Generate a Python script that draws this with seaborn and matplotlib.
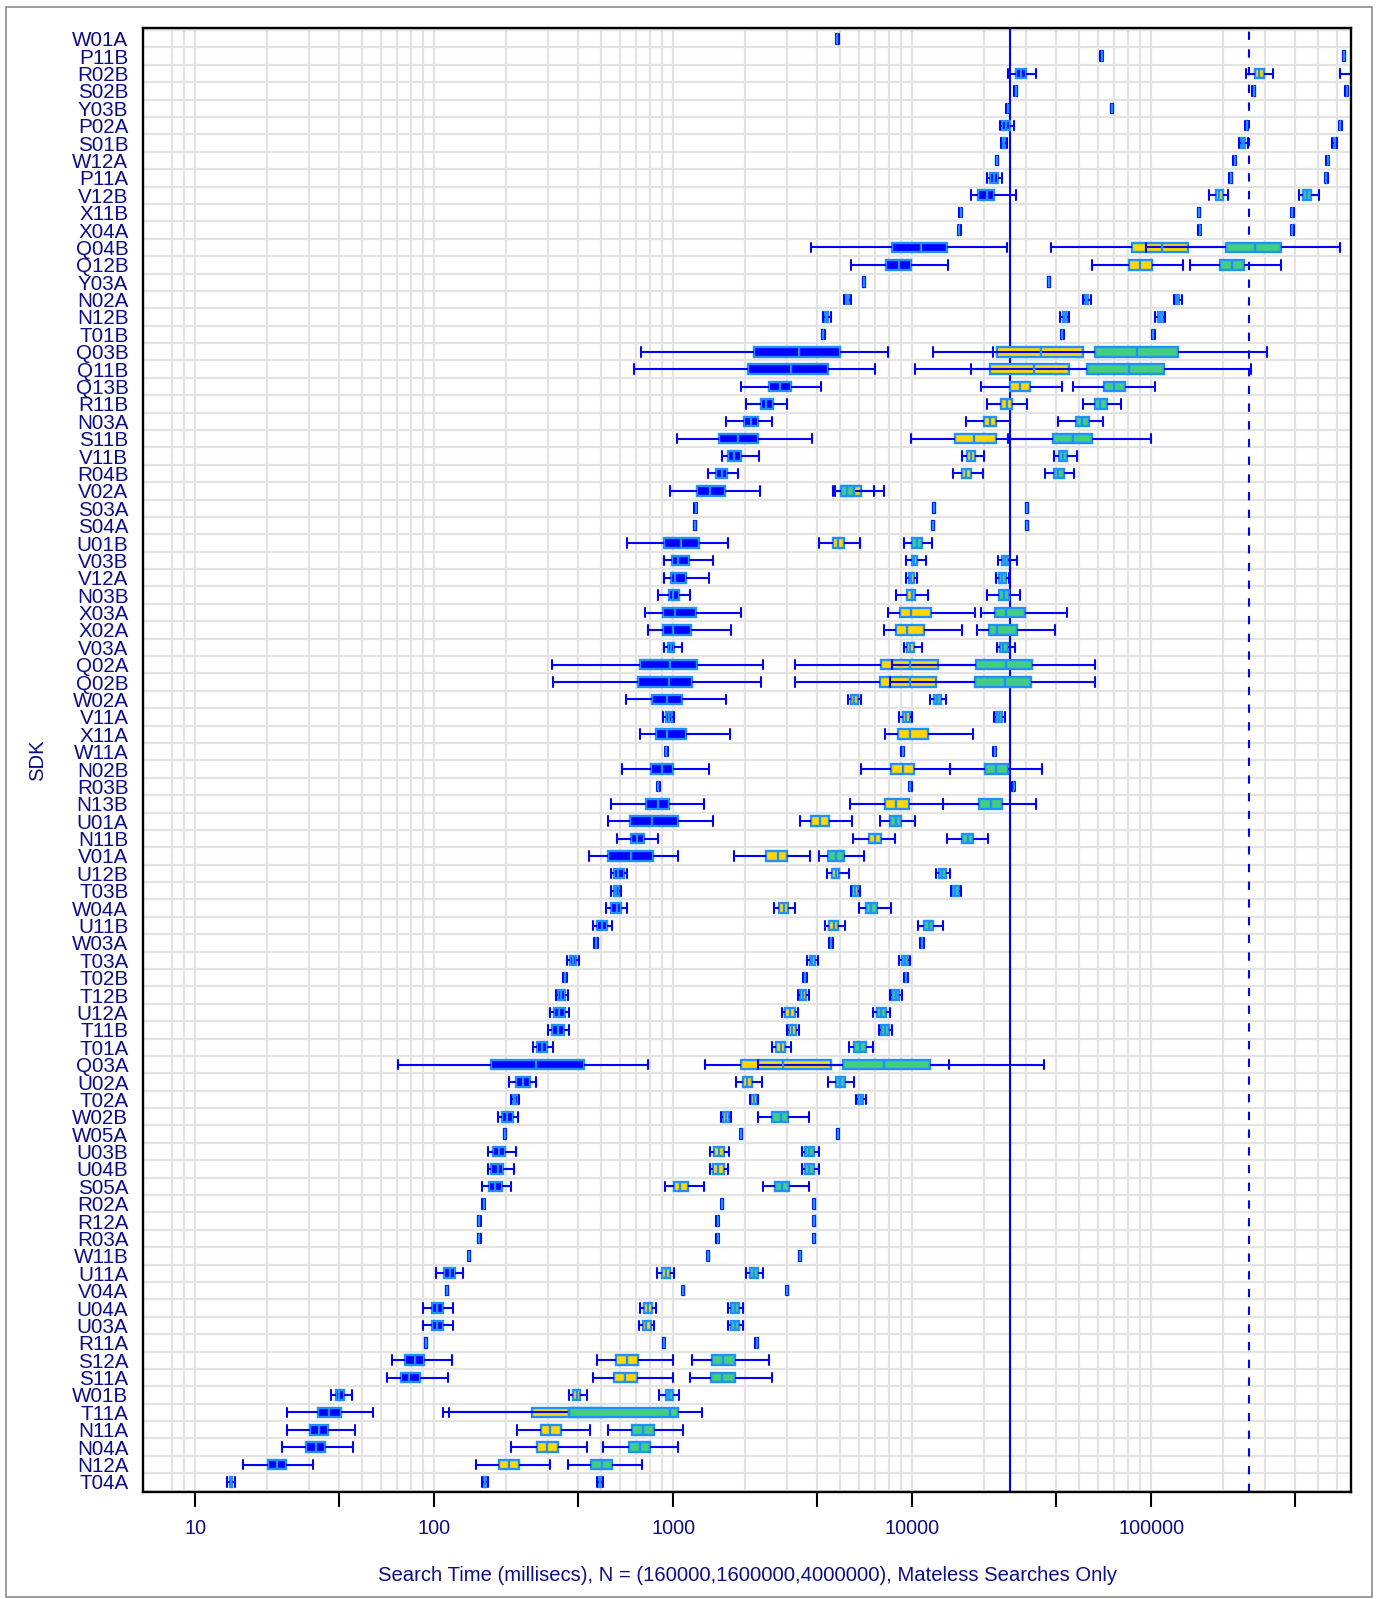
import numpy as np
import pandas as pd
import matplotlib
matplotlib.use("Agg")
import matplotlib.pyplot as plt
from matplotlib.patches import Rectangle
from matplotlib.ticker import FixedLocator, FixedFormatter, NullLocator
import seaborn as sns

# Five-number summaries (min, q1, median, q3, max) of search time in ms
sdk_labels = [
    "W01A", "P11B", "R02B", "S02B", "Y03B", "P02A", "S01B", "W12A", "P11A", "V12B",
    "X11B", "X04A", "Q04B", "Q12B", "Y03A", "N02A", "N12B", "T01B", "Q03B", "Q11B",
    "Q13B", "R11B", "N03A", "S11B", "V11B", "R04B", "V02A", "S03A", "S04A", "U01B",
    "V03B", "V12A", "N03B", "X03A", "X02A", "V03A", "Q02A", "Q02B", "W02A", "V11A",
    "X11A", "W11A", "N02B", "R03B", "N13B", "U01A", "N11B", "V01A", "U12B", "T03B",
    "W04A", "U11B", "W03A", "T03A", "T02B", "T12B", "U12A", "T11B", "T01A", "Q03A",
    "U02A", "T02A", "W02B", "W05A", "U03B", "U04B", "S05A", "R02A", "R12A", "R03A",
    "W11B", "U11A", "V04A", "U04A", "U03A", "R11A", "S12A", "S11A", "W01B", "T11A",
    "N11A", "N04A", "N12A", "T04A",
]

n_labels = ["160000", "1600000", "4000000"]

t_160k = [
    (4790, 4820, 4850, 4880, 4910), (61200, 61600, 62000, 62400, 62800),
    (25000, 27100, 28400, 29900, 32800), (26700, 26900, 27100, 27300, 27500),
    None, (23300, 23700, 24600, 25500, 26500),
    (23500, 23800, 24000, 24300, 24800), (22300, 22450, 22600, 22750, 22900),
    (20500, 21100, 21900, 22800, 23800), (17600, 18800, 20500, 21900, 27100),
    (15700, 15800, 15900, 16000, 16100), (15500, 15600, 15700, 15800, 15900),
    (3770, 8250, 10900, 13900, 24800), (5510, 7770, 8770, 9890, 14100),
    (6190, 6230, 6270, 6310, 6350), (5150, 5230, 5310, 5420, 5560),
    (4230, 4300, 4360, 4450, 4560), (4170, 4200, 4230, 4260, 4290),
    (734, 2180, 3370, 5000, 7870), (684, 2060, 3120, 4420, 6970),
    (1910, 2520, 2780, 3100, 4160), (2020, 2320, 2450, 2600, 2980),
    (1660, 1980, 2120, 2250, 2580), (1040, 1550, 1860, 2250, 3800),
    (1590, 1700, 1790, 1910, 2290), (1390, 1510, 1590, 1680, 1860),
    (970, 1260, 1430, 1640, 2300), (1225, 1232, 1240, 1248, 1255),
    (1215, 1222, 1230, 1238, 1245), (640, 913, 1080, 1280, 1700),
    (913, 985, 1050, 1160, 1460), (913, 978, 1020, 1130, 1410),
    (866, 963, 1000, 1060, 1170), (762, 906, 1020, 1240, 1920),
    (780, 906, 992, 1180, 1740), (913, 950, 978, 1010, 1090),
    (311, 722, 970, 1260, 2360), (313, 710, 963, 1200, 2320),
    (634, 816, 941, 1090, 1660), (906, 927, 955, 985, 1010),
    (728, 848, 941, 1130, 1730), (920, 927, 934, 941, 948),
    (609, 809, 900, 1000, 1410), (853, 860, 866, 872, 879),
    (549, 767, 860, 963, 1340), (533, 658, 816, 1050, 1470),
    (579, 668, 705, 750, 860), (444, 533, 664, 821, 1050),
    (549, 562, 589, 621, 640), (549, 562, 575, 592, 606),
    (525, 549, 579, 606, 640), (462, 479, 501, 529, 553),
    (466, 471, 476, 481, 486), (359, 368, 379, 393, 402),
    (346, 349, 353, 357, 360), (323, 330, 340, 353, 362),
    (306, 318, 333, 351, 367), (299, 311, 328, 348, 367),
    (259, 269, 282, 297, 315), (70.3, 172, 265, 424, 780),
    (206, 219, 235, 252, 267), (210, 213, 218, 223, 226),
    (184, 191, 202, 213, 223), (195, 196, 197, 198, 199),
    (168, 176, 186, 197, 219), (167, 173, 185, 194, 216),
    (159, 169, 180, 191, 210), (159, 160, 161, 162, 163),
    (152, 153, 154, 155, 156), (152, 153, 154, 155, 156),
    (138.5, 139.2, 140, 140.8, 141.5), (102, 110, 116, 122, 132),
    (111.8, 112.4, 113, 113.6, 114.2), (89.5, 97.5, 103, 109, 120),
    (89.5, 97.5, 103, 109, 120), (91.2, 91.8, 92.3, 92.8, 93.4),
    (66.6, 75.2, 83.2, 90.2, 119), (63.6, 72.5, 78.7, 87.0, 114),
    (37.1, 38.6, 40.1, 42.0, 45.3), (24.1, 32.6, 36.3, 40.7, 55.6),
    (24.1, 30.3, 32.9, 35.8, 46.7), (23.0, 29.1, 31.9, 35.0, 45.6),
    (15.9, 20.1, 22.0, 23.9, 31.2), (13.6, 13.9, 14.1, 14.3, 14.6),
]

t_1600k = [
    None, (632000, 636000, 640000, 644000, 648000),
    (249000, 270000, 283000, 296000, 322000), (264000, 266000, 268000, 270000, 272000),
    (24700, 24850, 25000, 25150, 25300), (247000, 248500, 250000, 251500, 253000),
    (232000, 237000, 241000, 246000, 254000), (220000, 221500, 223000, 224500, 226000),
    (212000, 213500, 215000, 216500, 218000), (174000, 186000, 192000, 199000, 210000),
    (156000, 157000, 158000, 159000, 160000), (157000, 158000, 159000, 160000, 161000),
    (38100, 83300, 111000, 142000, 254000), (56600, 80300, 90000, 101000, 136000),
    (36800, 37050, 37300, 37550, 37800), (51700, 52500, 53300, 54300, 55800),
    (41500, 42500, 43400, 44400, 45400), (41800, 42100, 42400, 42700, 43000),
    (12200, 22600, 34600, 51700, 95000), (10300, 21100, 32300, 45400, 79700),
    (19300, 25500, 28200, 31100, 42100), (20600, 23500, 24800, 26100, 30200),
    (16700, 20000, 21100, 22400, 25700), (9890, 15100, 18100, 22300, 44400),
    (16100, 16900, 17600, 18300, 20000), (14800, 16200, 16800, 17600, 19700),
    (4740, 5110, 5720, 6080, 7630), (12150, 12220, 12300, 12380, 12450),
    (12050, 12120, 12200, 12280, 12350), (4070, 4670, 4880, 5150, 6040),
    (9370, 9960, 10200, 10500, 11400), (9370, 9700, 9900, 10200, 10500),
    (8560, 9530, 9960, 10300, 11600), (7870, 8880, 9890, 12000, 18300),
    (7630, 8560, 9450, 11200, 16200), (9230, 9530, 9810, 10200, 11000),
    (3240, 7370, 9750, 12800, 22400), (3240, 7290, 9750, 12600, 22400),
    (5390, 5560, 5720, 5900, 6080), (8810, 9100, 9370, 9750, 10000),
    (7690, 8700, 9750, 11600, 17900), (8960, 9030, 9100, 9170, 9240),
    (6080, 8130, 9100, 10200, 14300), (9670, 9740, 9810, 9880, 9950),
    (5470, 7690, 8560, 9660, 13400), (3390, 3770, 4100, 4460, 5600),
    (5640, 6610, 6970, 7370, 8420), (1790, 2430, 2740, 3000, 3740),
    (4390, 4600, 4770, 4920, 5430), (5510, 5590, 5770, 5950, 6040),
    (2640, 2760, 2890, 3030, 3220), (4290, 4490, 4700, 4880, 5230),
    (4470, 4510, 4560, 4600, 4650), (3630, 3720, 3800, 3920, 4010),
    (3480, 3510, 3550, 3590, 3620), (3320, 3400, 3490, 3600, 3680),
    (2850, 2940, 3070, 3220, 3320), (2980, 3050, 3140, 3260, 3340),
    (2580, 2680, 2810, 2940, 3120), (1360, 1910, 2870, 4560, 14200),
    (1820, 1960, 2040, 2140, 2340), (2090, 2120, 2170, 2230, 2270),
    (1580, 1620, 1660, 1710, 1750), (1900, 1910, 1920, 1930, 1940),
    (1430, 1480, 1550, 1630, 1710), (1430, 1470, 1540, 1630, 1700),
    (920, 1010, 1070, 1150, 1340), (1580, 1590, 1600, 1610, 1620),
    (1510, 1520, 1530, 1540, 1550), (1510, 1520, 1530, 1540, 1550),
    (1385, 1392, 1400, 1408, 1415), (854, 894, 927, 970, 1010),
    (1088, 1094, 1100, 1106, 1112), (728, 750, 780, 816, 848),
    (716, 744, 767, 803, 833), (903, 908, 913, 918, 923),
    (479, 575, 640, 710, 1000), (462, 562, 625, 705, 1000),
    (365, 381, 396, 408, 434), (109, 257, 367, 505, 927),
    (221, 280, 306, 340, 447), (210, 269, 297, 328, 437),
    (149, 187, 206, 226, 304), (158, 161, 163, 165, 168),
]

t_4000k = [
    None, None,
    (617000, 700000, 760000, 820000, 950000), (647000, 652000, 656000, 660000, 665000),
    (67500, 68000, 68400, 68800, 69300), (609000, 613000, 617000, 621000, 625000),
    (572000, 580000, 586000, 592000, 600000), (540000, 543500, 547000, 550500, 554000),
    (532000, 535500, 539000, 542500, 546000), (416000, 432000, 449000, 467000, 503000),
    (384000, 386500, 389000, 391500, 394000), (384000, 386500, 389000, 391500, 394000),
    (95000, 206000, 270000, 347000, 617000), (145000, 193000, 217000, 245000, 350000),
    None, (124000, 126000, 128000, 131000, 134000),
    (104000, 106500, 109000, 111500, 114000), (100700, 101300, 102000, 102700, 103300),
    (21800, 57900, 87300, 129000, 305000), (17600, 53700, 80900, 113000, 262000),
    (47200, 63400, 70000, 77800, 104000), (51700, 57900, 61000, 64900, 74400),
    (40600, 48300, 51300, 54900, 62900), (25200, 38700, 46800, 56600, 99300),
    (39300, 41100, 42800, 44400, 49000), (35900, 39000, 40800, 43100, 47600),
    (4660, 5030, 5350, 5690, 6920), (29800, 30000, 30200, 30400, 30600),
    (29800, 30000, 30200, 30400, 30600), (9230, 10000, 10500, 11000, 12100),
    (22900, 23700, 24400, 25200, 27300), (22400, 23100, 23800, 24600, 25300),
    (20600, 23100, 24200, 25300, 28200), (19300, 22100, 24600, 29500, 44400),
    (18700, 21000, 22600, 27500, 39600), (22600, 23300, 24000, 25000, 26900),
    (8180, 18400, 24600, 31800, 58300), (8050, 18300, 24400, 31500, 57900),
    (11900, 12300, 12700, 13200, 13800), (21900, 22400, 23100, 23800, 24400),
    None, (21800, 21950, 22100, 22250, 22400),
    (14300, 20200, 22400, 25000, 34800), (26100, 26300, 26500, 26700, 26900),
    (13400, 19000, 21300, 23700, 33000), (7290, 8050, 8510, 8950, 10300),
    (13900, 16200, 17100, 18000, 20800), (4070, 4420, 4770, 5150, 6270),
    (12500, 12900, 13300, 13800, 14300), (14500, 14700, 15100, 15600, 15900),
    (5990, 6370, 6720, 7080, 8130), (10600, 11200, 11700, 12200, 13400),
    (10800, 10900, 11000, 11100, 11200), (8810, 9010, 9290, 9570, 9810),
    (9190, 9280, 9370, 9460, 9550), (8050, 8250, 8510, 8810, 9010),
    (6870, 7080, 7410, 7770, 8050), (7240, 7410, 7690, 8000, 8180),
    (5430, 5720, 6040, 6370, 6820), (2270, 5110, 7580, 11800, 35600),
    (4420, 4770, 5000, 5230, 5720), (5810, 5950, 6080, 6220, 6370),
    (2270, 2580, 2810, 3030, 3680), (4830, 4855, 4880, 4905, 4930),
    (3450, 3550, 3710, 3880, 4070), (3450, 3550, 3710, 3880, 4070),
    (2370, 2660, 2850, 3050, 3680), (3850, 3870, 3890, 3910, 3930),
    (3850, 3870, 3890, 3910, 3930), (3850, 3870, 3890, 3910, 3930),
    (3350, 3370, 3390, 3410, 3430), (2020, 2100, 2180, 2270, 2360),
    (2970, 2985, 3000, 3015, 3030), (1690, 1740, 1810, 1880, 1950),
    (1690, 1740, 1810, 1880, 1950), (2205, 2218, 2230, 2242, 2255),
    (1200, 1450, 1610, 1810, 2520), (1170, 1440, 1600, 1810, 2580),
    (873, 927, 963, 1000, 1060), (115, 367, 970, 1050, 1320),
    (533, 674, 744, 828, 1095), (509, 653, 722, 797, 1050),
    (362, 454, 501, 553, 737), (480, 488, 494, 500, 508),
]

# Reference times (ms)
limit_solid = 25600
limit_dashed = 256000

tick_values = [10, 40, 100, 400, 1000, 4000, 10000, 40000, 100000, 400000]
tick_labels = ["10", "", "100", "", "1000", "", "10000", "", "100000", ""]

box_colors = ["#0000FF", "#FFD700", "#43CD80"]
edge_color = "#1E90FF"
whisker_color = "#0000FF"
text_color = "#0D0D85"

# Long-form table: the five summary values of each box become its samples
records = []
for n, series in zip(n_labels, (t_160k, t_1600k, t_4000k)):
    for sdk, five in zip(sdk_labels, series):
        if five is None:
            continue
        for v in five:
            records.append({"SDK": sdk, "N": n, "ms": v})
df = pd.DataFrame(records)

sns.set_theme(style="white")
plt.rcParams["font.family"] = ["Liberation Sans", "DejaVu Sans"]

W, H = 1376, 1599
fig = plt.figure(figsize=(W / 100, H / 100), dpi=100)
ax = fig.add_axes([143 / W, 1 - 1492 / H, (1351 - 143) / W, (1492 - 28) / H])

box_width = 0.55
sns.boxplot(
    data=df, x="ms", y="SDK", hue="N",
    order=sdk_labels, hue_order=n_labels,
    palette=dict(zip(n_labels, box_colors)), saturation=1,
    dodge=False, width=box_width, whis=(0, 100), log_scale=True,
    linecolor=edge_color, linewidth=1.7, fliersize=0, legend=False,
    whiskerprops={"color": whisker_color, "linewidth": 1.5},
    capprops={"color": whisker_color, "linewidth": 1.5},
    ax=ax,
)

# Stretch the whisker caps to the full box height
half = box_width / 2
for ln in ax.lines:
    xd = np.asarray(ln.get_xdata(), dtype=float)
    yd = np.asarray(ln.get_ydata(), dtype=float)
    if len(xd) == 2 and xd[0] == xd[1] and 0 < abs(yd[1] - yd[0]) < 0.5:
        c = yd.mean()
        ln.set_ydata([c - half, c + half])

# Background grid: every integer multiple of each decade, and row separators
grid_kw = dict(color="#E3E3E3", lw=1.6, zorder=0)
for k in range(0, 6):
    for m in range(1, 10):
        v = m * 10 ** k
        if 8 <= v <= 680000:
            ax.axvline(v, **grid_kw)
for i in range(-1, len(sdk_labels)):
    ax.axhline(i + 0.5, **grid_kw)

ax.axvline(limit_solid, color="#0000FF", lw=1.5, zorder=1.5)
ax.axvline(limit_dashed, color="#0000FF", lw=1.5, ls=(0, (4, 4.5)), zorder=1.5)

ax.set_xlim(6.04, 684000)
ax.set_ylim(len(sdk_labels) - 0.42, -0.62)

ax.xaxis.set_major_locator(FixedLocator(tick_values))
ax.xaxis.set_major_formatter(FixedFormatter(tick_labels))
ax.xaxis.set_minor_locator(NullLocator())
ax.tick_params(axis="x", direction="out", length=10.5, width=1.5, color="black",
               labelsize=14.3, labelcolor=text_color, pad=9, bottom=True)
ax.tick_params(axis="y", length=0, pad=10.5, labelsize=14.9, labelcolor=text_color)

for s in ax.spines.values():
    s.set_visible(True)
    s.set_color("black")
    s.set_linewidth(1.7)

ax.set_xlabel("Search Time (millisecs), N = (160000,1600000,4000000), Mateless Searches Only",
              fontsize=14.6, color=text_color, labelpad=20)
ax.set_ylabel("SDK", fontsize=14.6, color=text_color, labelpad=18)

fig.add_artist(Rectangle((6 / W, 2 / H), (1372 - 6) / W, (1592 - 2) / H,
                         transform=fig.transFigure, fill=False,
                         edgecolor="#8C8C8C", lw=1.2))

fig.savefig("out.png", dpi=100)
